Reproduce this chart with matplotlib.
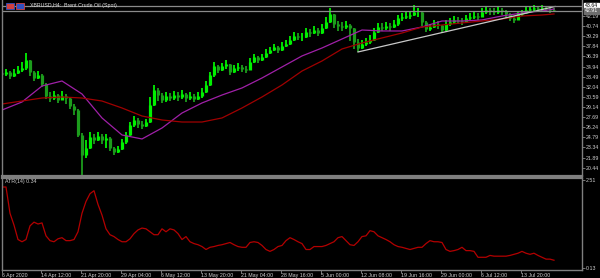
import matplotlib
matplotlib.use("Agg")
import matplotlib.pyplot as plt
from matplotlib.patches import Rectangle

plt.rcParams["font.family"] = ["Liberation Sans", "DejaVu Sans"]

# ---------------- data ----------------
close = [
    33.87, 34.16, 33.59, 34.02, 34.45, 34.73, 35.88, 34.16, 33.30, 33.73,
    32.44, 30.72, 30.43, 30.86, 30.15, 30.72, 30.43, 29.29, 28.71, 25.13,
    22.26, 23.27, 24.84, 24.41, 24.99, 24.41, 24.70, 23.27, 22.69, 23.12,
    24.13, 25.13, 26.56, 27.28, 26.71, 26.42, 26.99, 29.43, 31.58, 30.86,
    30.15, 30.72, 30.43, 30.86, 30.58, 31.01, 30.43, 30.72, 30.29, 30.72,
    31.29, 32.30, 33.73, 35.02, 34.45, 35.02, 35.31, 34.16, 34.73, 34.88,
    34.59, 34.45, 35.60, 36.31, 35.88, 36.31, 36.89, 37.32, 37.75, 37.32,
    37.89, 38.18, 38.75, 39.32, 39.18,
    39.18, 39.90, 39.75, 40.18, 39.75, 40.47, 41.33, 42.48, 41.04, 40.76,
    40.61, 40.90, 40.47, 38.46, 37.60, 38.18, 38.46, 38.75, 39.90, 40.61,
    40.47, 40.76, 40.61, 41.04, 41.90, 42.05, 42.19, 42.33, 42.76, 42.76,
    41.33, 40.33, 40.61, 41.04, 40.90, 40.18, 41.04, 41.33, 41.62, 41.47,
    41.33, 41.90, 42.05, 42.19, 42.05, 42.76, 43.05, 42.91, 42.76, 43.05,
    42.91, 42.48, 41.90, 41.62, 42.48, 42.62, 43.05, 43.19, 43.34, 43.19,
    43.34, 43.19, 43.05, 42.91,
]

high = [
    34.4, 34.6, 34.3, 34.6, 35.0, 35.6, 36.9, 35.9, 34.3, 34.3,
    33.9, 32.6, 31.3, 31.5, 31.0, 31.4, 31.0, 30.6, 29.5, 28.8,
    25.4, 24.4, 25.6, 25.3, 25.5, 25.2, 25.3, 24.8, 23.4, 23.6,
    24.6, 25.6, 27.0, 27.8, 27.5, 27.2, 27.4, 30.6, 32.3, 31.9,
    31.2, 31.3, 31.2, 31.4, 31.3, 31.6, 31.2, 31.3, 31.0, 31.3,
    31.8, 32.8, 34.2, 35.6, 35.2, 35.5, 35.9, 35.3, 35.2, 35.4,
    35.1, 35.0, 36.1, 36.8, 36.5, 36.8, 37.4, 37.8, 38.2, 37.9,
    38.4, 38.7, 39.3, 39.9, 39.8,
    39.8, 40.5, 40.3, 40.7, 40.4, 41.0, 42.1, 43.34, 42.5, 41.4,
    41.3, 41.4, 41.1, 40.5, 38.9, 38.8, 39.0, 39.4, 40.4, 41.2,
    41.2, 41.3, 41.2, 41.6, 42.4, 42.6, 42.7, 42.9, 43.77, 43.3,
    42.8, 41.5, 41.1, 41.6, 41.4, 40.9, 41.6, 41.9, 42.2, 42.0,
    41.9, 42.4, 42.6, 42.7, 42.6, 43.3, 43.5, 43.4, 43.3, 43.5,
    43.4, 43.0, 42.6, 42.2, 42.9, 43.1, 43.5, 43.6, 43.7, 43.6,
    43.7, 43.6, 43.5, 43.3,
]

low = [
    33.4, 33.6, 33.2, 33.4, 33.9, 34.2, 34.5, 33.6, 32.9, 33.1,
    32.0, 30.3, 29.9, 30.1, 29.7, 30.2, 29.6, 28.8, 28.0, 24.8,
    19.4, 21.9, 23.1, 23.9, 24.2, 23.9, 23.2, 22.8, 22.2, 22.5,
    23.0, 23.9, 25.0, 26.3, 26.2, 26.0, 26.3, 26.9, 29.3, 30.0,
    29.7, 29.9, 30.0, 30.2, 30.0, 30.3, 29.9, 30.1, 29.8, 30.1,
    30.4, 31.1, 32.1, 33.5, 34.0, 34.3, 34.6, 33.8, 34.0, 34.3,
    34.1, 34.0, 34.4, 35.5, 35.4, 35.8, 36.2, 36.8, 37.2, 36.9,
    37.2, 37.7, 38.1, 38.6, 38.7,
    38.6, 39.1, 39.2, 39.6, 39.3, 39.6, 40.3, 41.2, 40.5, 40.1,
    40.0, 40.3, 38.6, 37.5, 37.03, 37.5, 37.9, 38.2, 38.6, 39.8,
    40.0, 40.2, 40.1, 40.5, 40.8, 41.4, 41.7, 41.8, 42.2, 42.0,
    40.8, 39.9, 40.0, 40.5, 40.3, 39.7, 40.1, 40.8, 41.1, 41.0,
    40.9, 41.2, 41.6, 41.7, 41.6, 42.0, 42.5, 42.4, 42.3, 42.5,
    42.4, 41.9, 41.5, 41.2, 41.6, 42.2, 42.5, 42.7, 42.8, 42.7,
    42.8, 42.7, 42.6, 42.7,
]

ma_idx = [0, 5, 10, 15, 20, 25, 30, 35, 40, 45, 50, 55, 60, 65, 70, 75, 80,
          85, 90, 95, 100, 105, 110, 115, 120, 125, 130, 135, 138]
ma_fast = [28.71, 29.86, 32.15, 32.87, 31.01, 27.57, 25.13, 24.56, 26.13, 28.28,
           29.72, 30.86, 31.87, 33.30, 34.88, 36.46, 37.60, 38.89, 40.18, 40.04,
           40.04, 40.61, 41.47, 41.47, 41.62, 42.19, 42.62, 42.91, 43.19]
ma_slow = [29.57, 30.00, 30.43, 30.58, 30.43, 30.00, 29.00, 27.85, 27.28, 26.99,
           26.99, 27.57, 29.00, 30.58, 32.30, 34.30, 35.74, 37.46, 38.32, 39.04,
           39.75, 40.61, 40.90, 41.19, 41.47, 41.76, 42.19, 42.33, 42.48]

atr = [
    2.32, 2.32, 1.61, 1.29, 0.90, 0.84, 0.90, 1.27, 1.37, 1.32,
    1.35, 1.00, 0.87, 0.84, 0.92, 0.95, 0.87, 0.87, 0.90, 1.11,
    1.61, 1.93, 2.14, 2.22, 1.85, 1.56, 1.19, 1.03, 0.98, 0.90,
    0.84, 0.84, 0.92, 1.06, 1.16, 1.21, 1.19, 1.11, 1.03, 1.03,
    1.19, 1.11, 1.19, 1.16, 1.06, 0.90, 0.98, 0.84, 0.79, 0.76,
    0.71, 0.63, 0.69, 0.71, 0.74, 0.76, 0.79, 0.82, 0.76, 0.71,
    0.69, 0.69, 0.82, 0.84, 0.82, 0.74, 0.63, 0.58, 0.63, 0.71,
    0.74, 0.87, 0.95, 0.90, 0.84,
    0.79, 0.63, 0.63, 0.71, 0.71, 0.71, 0.74, 0.79, 0.84, 0.95,
    0.98, 0.87, 0.76, 0.74, 0.84, 0.98, 1.00, 1.14, 1.11, 1.00,
    0.95, 0.90, 0.84, 0.76, 0.71, 0.69, 0.66, 0.63, 0.66, 0.69,
    0.69, 0.79, 0.87, 0.84, 0.84, 0.82, 0.63, 0.58, 0.60, 0.63,
    0.69, 0.60, 0.60, 0.58, 0.42, 0.42, 0.42, 0.47, 0.45, 0.45,
    0.45, 0.45, 0.47, 0.50, 0.53, 0.58, 0.53, 0.50, 0.53, 0.47,
    0.42, 0.37, 0.37, 0.34,
]

trend_idx = [89, 138.25]
trend_price = [37.03, 43.55]

hline_price = 43.64
bid_price = 42.91

price_ticks = [42.19, 40.74, 39.29, 37.84, 36.39, 34.94, 33.49, 32.04, 30.59,
               29.14, 27.69, 26.24, 24.79, 23.34, 21.89, 20.44]
atr_ticks = [2.51, 0.13]

time_labels = ["6 Apr 2020", "14 Apr 12:00", "21 Apr 20:00", "29 Apr 04:00",
               "6 May 12:00", "13 May 20:00", "21 May 04:00", "28 May 16:00",
               "5 Jun 00:00", "12 Jun 08:00", "19 Jun 16:00", "29 Jun 00:00",
               "6 Jul 12:00", "13 Jul 20:00"]
time_label_idx = [0, 9.75, 19.75, 29.75, 39.75, 49.75, 59.75, 69.75, 79.75,
                  89.75, 99.75, 109.75, 119.75, 129.75]

title = "XBRUSD,H4:  Brent Crude Oil (Spot)"
atr_title = "ATR(14) 0.34"

# ---------------- drawing ----------------
W, H = 600, 278
fig = plt.figure(figsize=(W / 100, H / 100), dpi=100, facecolor="black")

def fx(px):
    return px / W

def fy(py):
    return 1 - py / H

ax = fig.add_axes([fx(2), fy(176), fx(580), 176 / H])
ax2 = fig.add_axes([fx(2), fy(270), fx(580), (270 - 178) / H])

P_LO, P_HI = 19.25, 44.48
A_LO, A_HI = 0.076, 2.564

for a in (ax, ax2):
    a.set_facecolor("black")
    a.set_xlim(0, 145)
    for s in a.spines.values():
        s.set_color("#7f7f7f")
        s.set_linewidth(1.0)

ax.spines["top"].set_visible(False)
ax.spines["bottom"].set_linewidth(1.6)
ax2.spines["top"].set_linewidth(1.6)

ax.set_ylim(P_LO, P_HI)
ax2.set_ylim(A_LO, A_HI)

# candles
n = len(close)
idx = list(range(n))
for i in idx:
    o = close[i - 1] if i > 0 else close[0] + 0.15
    c = close[i]
    col = "#00f000" if c >= o else "#1c9c1c"
    ax.vlines(i, low[i], high[i], color=col, lw=1.3)
    lo, hi = min(o, c), max(o, c)
    if hi - lo < 0.1:
        hi += 0.05
        lo -= 0.05
    ax.vlines(i, lo, hi, color=col, lw=2.3)

ax.plot(ma_idx, ma_fast, color="#a020a8", lw=0.9)
ax.plot(ma_idx, ma_slow, color="#a00000", lw=0.9)
ax.plot(trend_idx, trend_price, color="#c8c8c8", lw=0.9)

ax.axhline(hline_price, color="#8a8a8a", lw=0.9)
ax.axhline(bid_price, color="#8a8a8a", lw=0.9)

ax2.plot(idx, atr, color="#b30000", lw=0.9)

# right axis
ax.yaxis.tick_right()
ax.set_yticks(price_ticks)
ax.set_yticklabels([f"{v:.2f}" for v in price_ticks])
ax2.yaxis.tick_right()
ax2.set_yticks(atr_ticks)
ax2.set_yticklabels([f"{v:.2f}" for v in atr_ticks])
for a in (ax, ax2):
    a.tick_params(axis="y", colors="#8a8a8a", labelcolor="#d0d0d0",
                  labelsize=3.8, length=2, width=0.6, pad=0.6)

# price boxes
ax.text(1.005, (hline_price - P_LO) / (P_HI - P_LO), f"{hline_price:.2f}",
        transform=ax.transAxes, fontsize=3.8, color="black", va="center",
        ha="left", bbox=dict(boxstyle="square,pad=0.15", fc="white", ec="white"))
ax.text(1.005, (bid_price - P_LO) / (P_HI - P_LO), f"{bid_price:.2f}",
        transform=ax.transAxes, fontsize=3.8, color="white", va="center",
        ha="left", bbox=dict(boxstyle="square,pad=0.15", fc="#6e6e6e", ec="#6e6e6e"))

# x axis
ax.set_xticks([])
ax2.set_xticks(time_label_idx)
ax2.set_xticklabels(time_labels, ha="left")
ax2.tick_params(axis="x", colors="#8a8a8a", labelcolor="#d0d0d0",
                labelsize=3.8, length=2, width=0.6, pad=0.5)

# titles
fig.text(fx(30), fy(5), title, fontsize=3.8, color="#e0e0e0", va="center", ha="left")
fig.text(fx(5), fy(181.5), atr_title, fontsize=3.8, color="#d0d0d0", va="center", ha="left")

# flag icons
fig.patches.append(Rectangle((fx(6), fy(9)), fx(8), 6 / H, transform=fig.transFigure,
                             fc="#d04040", ec="#3050c0", lw=0.6))
fig.patches.append(Rectangle((fx(16), fy(9)), fx(8), 6 / H, transform=fig.transFigure,
                             fc="#3050c0", ec="#d04040", lw=0.6))

fig.savefig("out.png", dpi=100, facecolor="black")
